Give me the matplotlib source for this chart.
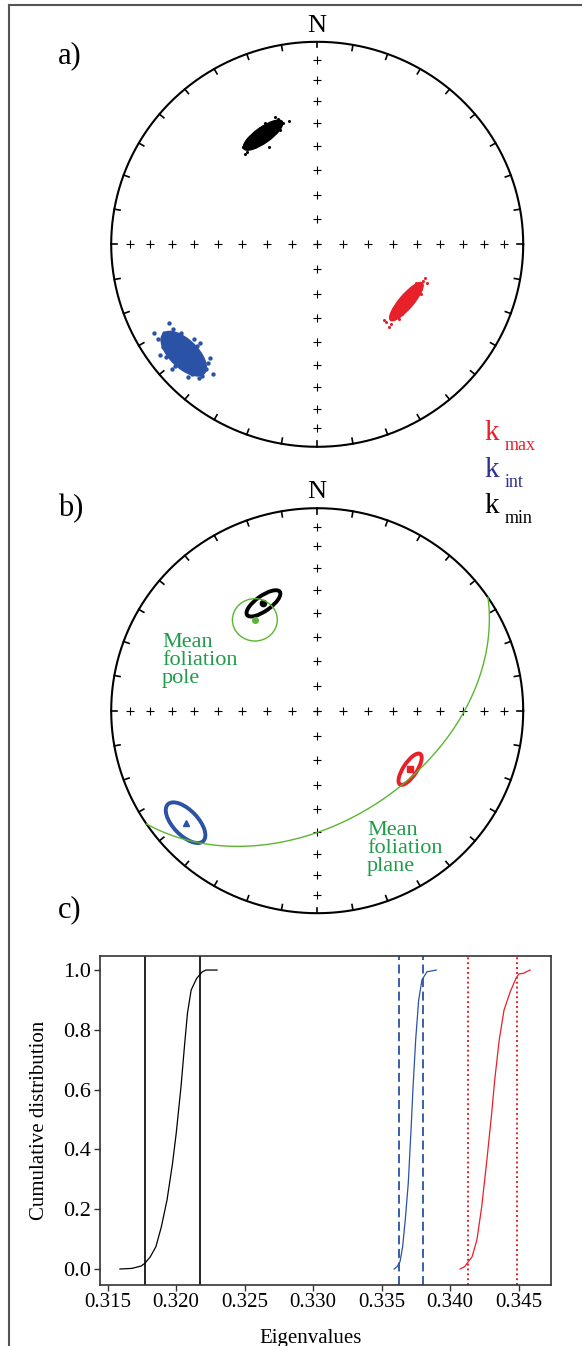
import numpy as np
import matplotlib.pyplot as plt
from matplotlib.patches import Ellipse

plt.rcParams['font.family'] = ['Liberation Serif', 'DejaVu Serif']

W, H = 582, 1346  # output size in pixels

RED = '#e8202a'
BLUE = '#2a52a6'
BLUE_TXT = '#2e3192'
GREEN_LINE = '#5cb531'
GREEN_TXT = '#1f9b4a'

## data

# a) bootstrap clouds of the principal axes (net x/y, core half-length, half-width, angle)
cloud_names = ['kmax', 'kint', 'kmin']
cloud_colors = [RED, BLUE, 'black']
cloud_x = [0.433, -0.648, -0.263]
cloud_y = [-0.283, -0.540, 0.539]
cloud_a = [0.120, 0.140, 0.115]
cloud_b = [0.034, 0.068, 0.038]
cloud_ang = [50, -45, 36]

# loose points around the dense cores
kmax_pts_x = [0.523, 0.532, 0.497, 0.325, 0.349, 0.370, 0.334, 0.515, 0.356, 0.480, 0.410, 0.455,
              0.505, 0.385, 0.470, 0.395]
kmax_pts_y = [-0.168, -0.193, -0.226, -0.374, -0.407, -0.357, -0.382, -0.180, -0.395, -0.190, -0.345, -0.225,
              -0.245, -0.300, -0.270, -0.370]
kint_pts_x = [-0.792, -0.720, -0.504, -0.576, -0.567, -0.765, -0.531, -0.747, -0.700, -0.560, -0.775,
              -0.540, -0.745, -0.600, -0.690, -0.520, -0.660, -0.610, -0.735, -0.585, -0.625, -0.705]
kint_pts_y = [-0.440, -0.390, -0.640, -0.662, -0.489, -0.547, -0.588, -0.506, -0.420, -0.650, -0.470,
              -0.615, -0.440, -0.470, -0.600, -0.560, -0.440, -0.640, -0.555, -0.500, -0.655, -0.615]
kmin_pts_x = [-0.206, -0.138, -0.350, -0.360, -0.167, -0.279, -0.233, -0.190, -0.340, -0.300, -0.215,
              -0.325, -0.180, -0.255]
kmin_pts_y = [0.630, 0.610, 0.446, 0.482, 0.597, 0.573, 0.482, 0.620, 0.455, 0.500, 0.575,
              0.530, 0.565, 0.600]

# b) confidence ellipses (net x/y, half-length, half-width, angle)
ell_x = [0.451, -0.639, -0.261]
ell_y = [-0.289, -0.553, 0.530]
ell_a = [0.090, 0.125, 0.098]
ell_b = [0.033, 0.061, 0.037]
ell_ang = [57, -47, 36]
ell_marker = ['s', '^', 'o']

# mean foliation: pole trend/plunge, cone half-size, plane dip direction/dip
pole_trend, pole_plunge = 326, 45
pole_cone_w, pole_cone_h = 0.218, 0.209
plane_dipdir, plane_dip = 146, 45

# c) cumulative distributions of the bootstrapped eigenvalues
kmin_eig = [0.31590, 0.31677, 0.31745, 0.31772, 0.31812, 0.31853, 0.31893, 0.31934, 0.31974,
            0.32001, 0.32036, 0.32061, 0.32083, 0.32110, 0.32150, 0.32191, 0.32218, 0.32299]
kmin_cdf = [0.0, 0.002, 0.010, 0.019, 0.041, 0.075, 0.142, 0.231, 0.353,
            0.454, 0.610, 0.744, 0.855, 0.933, 0.972, 0.994, 1.0, 1.0]
kint_eig = [0.33592, 0.33614, 0.33635, 0.33654, 0.33673, 0.33695, 0.33714, 0.33730, 0.33749,
            0.33771, 0.33795, 0.33831, 0.33899]
kint_cdf = [0.0, 0.008, 0.025, 0.075, 0.164, 0.287, 0.454, 0.610, 0.766,
            0.900, 0.967, 0.994, 1.0]
kmax_eig = [0.34074, 0.34107, 0.34134, 0.34161, 0.34196, 0.34231, 0.34269, 0.34304, 0.34326,
            0.34359, 0.34394, 0.34440, 0.34481, 0.34502, 0.34535, 0.34584]
kmax_cdf = [0.0, 0.008, 0.025, 0.041, 0.097, 0.208, 0.365, 0.521, 0.632,
            0.766, 0.866, 0.928, 0.972, 0.987, 0.989, 1.0]
# 95% bounds
kmin_bounds = [0.31772, 0.32177]
kint_bounds = [0.33630, 0.33804]
kmax_bounds = [0.34134, 0.34489]

x_ticks = [0.315, 0.320, 0.325, 0.330, 0.335, 0.340, 0.345]
y_ticks = [0.0, 0.2, 0.4, 0.6, 0.8, 1.0]

## helpers

fig = plt.figure(figsize=(W/100, H/100), dpi=100)


def px_axes(left, top, width, height):
    return fig.add_axes([left/W, 1-(top+height)/H, width/W, height/H])


def fig_text(x, y, s, **kw):
    fig.text(x/W, 1-y/H, s, **kw)


def project(trend, plunge):
    # equal-area (Schmidt) lower hemisphere
    tr = np.radians(trend)
    r = np.sqrt(2)*np.sin(np.radians(90-np.asarray(plunge))/2)
    return r*np.sin(tr), r*np.cos(tr)


def draw_net(cy):
    cx, rx, ry, pad = 317.2, 206, 202.5, 1.15
    ax = px_axes(cx-pad*rx, cy-pad*ry, 2*pad*rx, 2*pad*ry)
    ax.set_xlim(-pad, pad)
    ax.set_ylim(-pad, pad)
    ax.axis('off')
    t = np.linspace(0, 2*np.pi, 721)
    ax.plot(np.cos(t), np.sin(t), color='black', lw=1.5, zorder=2)
    for az in range(0, 360, 10):
        a = np.radians(az)
        ax.plot([np.sin(a), 0.972*np.sin(a)], [np.cos(a), 0.972*np.cos(a)],
                color='black', lw=1.2, zorder=2)
    r = np.sqrt(2)*np.sin(np.radians(np.arange(10, 90, 10))/2)
    pos = np.concatenate([-r[::-1], [0], r])
    ax.plot(pos, np.zeros_like(pos), '+', color='black', ms=5.5, mew=0.8, zorder=1)
    ax.plot(np.zeros_like(pos), pos, '+', color='black', ms=5.5, mew=0.8, zorder=1)
    ax.text(0, 1.05, 'N', ha='center', va='baseline', fontsize=19)
    return ax


## frame around the whole figure
fig.add_artist(plt.Line2D([9/W, 9/W], [0, 1-5/H], color='#555555', lw=1.5))
fig.add_artist(plt.Line2D([9/W, 1], [1-5/H, 1-5/H], color='#555555', lw=1.5))

## a) bootstrap clouds
ax_a = draw_net(244.3)
pts = [(kmax_pts_x, kmax_pts_y), (kint_pts_x, kint_pts_y), (kmin_pts_x, kmin_pts_y)]
for i in range(len(cloud_names)):
    c = cloud_colors[i]
    ax_a.add_patch(Ellipse((cloud_x[i], cloud_y[i]), 2*cloud_a[i], 2*cloud_b[i],
                           angle=cloud_ang[i], facecolor=c, edgecolor=c, lw=1, zorder=3))
    ms = 10 if cloud_names[i] == 'kint' else 5
    ax_a.scatter(pts[i][0], pts[i][1], s=ms, color=c, lw=0, zorder=3)

## b) confidence ellipses and mean foliation
ax_b = draw_net(710.7)
for i in range(len(cloud_names)):
    c = cloud_colors[i]
    ax_b.add_patch(Ellipse((ell_x[i], ell_y[i]), 2*ell_a[i], 2*ell_b[i], angle=ell_ang[i],
                           facecolor='none', edgecolor=c, lw=2.8, zorder=3))
    ax_b.plot(ell_x[i], ell_y[i], ell_marker[i], color=c, ms=4.5, zorder=4)

px, py = project(pole_trend, pole_plunge)
ax_b.add_patch(Ellipse((px, py), pole_cone_w, pole_cone_h, facecolor='none',
                       edgecolor=GREEN_LINE, lw=1.0, zorder=4))
ax_b.plot(px, py, 'o', color=GREEN_LINE, ms=4, zorder=4)

# great circle of the mean plane
s = np.radians(plane_dipdir-90)
dd, dp = np.radians(plane_dipdir), np.radians(plane_dip)
strike_v = np.array([np.sin(s), np.cos(s), 0.0])
dip_v = np.array([np.sin(dd)*np.cos(dp), np.cos(dd)*np.cos(dp), np.sin(dp)])
rake = np.radians(np.linspace(0, 180, 361))
v = np.outer(np.cos(rake), strike_v)+np.outer(np.sin(rake), dip_v)
gc_trend = np.degrees(np.arctan2(v[:, 0], v[:, 1]))
gc_plunge = np.degrees(np.arcsin(np.clip(v[:, 2], -1, 1)))
gx, gy = project(gc_trend, gc_plunge)
ax_b.plot(gx, gy, color=GREEN_LINE, lw=1.0, zorder=4)

for txt, yy in zip(['Mean', 'foliation', 'pole'], [647, 665, 683]):
    fig_text(162, yy, txt, color=GREEN_TXT, fontsize=16, va='baseline')
for txt, yy in zip(['Mean', 'foliation', 'plane'], [835, 853, 871]):
    fig_text(367, yy, txt, color=GREEN_TXT, fontsize=16, va='baseline')

## legend
leg_colors = [RED, BLUE_TXT, 'black']
leg_sub = ['max', 'int', 'min']
leg_base = [440, 477, 513]
for c, sub, yb in zip(leg_colors, leg_sub, leg_base):
    fig_text(484, yb, 'k', color=c, fontsize=21, va='baseline')
    fig_text(505, yb+10, sub, color=c, fontsize=13, va='baseline')

## panel labels
fig_text(58, 63, 'a)', fontsize=22, va='baseline')
fig_text(58, 516, 'b)', fontsize=22, va='baseline')
fig_text(58, 917, 'c)', fontsize=22, va='baseline')

## c) cumulative distributions
ax_c = px_axes(99.5, 956, 451.5, 329)
ax_c.plot(kmin_eig, kmin_cdf, color='black', lw=0.9)
ax_c.plot(kint_eig, kint_cdf, color=BLUE, lw=0.9)
ax_c.plot(kmax_eig, kmax_cdf, color=RED, lw=0.9)
for b in kmin_bounds:
    ax_c.axvline(b, color='black', lw=1.2)
for b in kint_bounds:
    ax_c.axvline(b, color=BLUE, lw=1.3, ls=(0, (5, 2.5)))
for b in kmax_bounds:
    ax_c.axvline(b, color=RED, lw=1.4, ls=(0, (1, 1.5)))
ax_c.set_xlim(0.31441, 0.34737)
ax_c.set_ylim(-0.0535, 1.047)
ax_c.set_xticks(x_ticks)
ax_c.set_xticklabels([f'{t:.3f}' for t in x_ticks])
ax_c.set_yticks(y_ticks)
ax_c.set_yticklabels([f'{t:.1f}' for t in y_ticks])
ax_c.tick_params(labelsize=15, length=4, width=1, pad=2, color='#333333')
ax_c.tick_params(axis='y', labelsize=16)
for sp in ax_c.spines.values():
    sp.set_linewidth(1.2)
    sp.set_color('#333333')
ax_c.set_ylabel('Cumulative distribution', fontsize=15, labelpad=10)
ax_c.set_xlabel('Eigenvalues', fontsize=15, labelpad=4)
ax_c.xaxis.set_label_coords(0.468, -0.135)

fig.savefig('out.png', dpi=100)
